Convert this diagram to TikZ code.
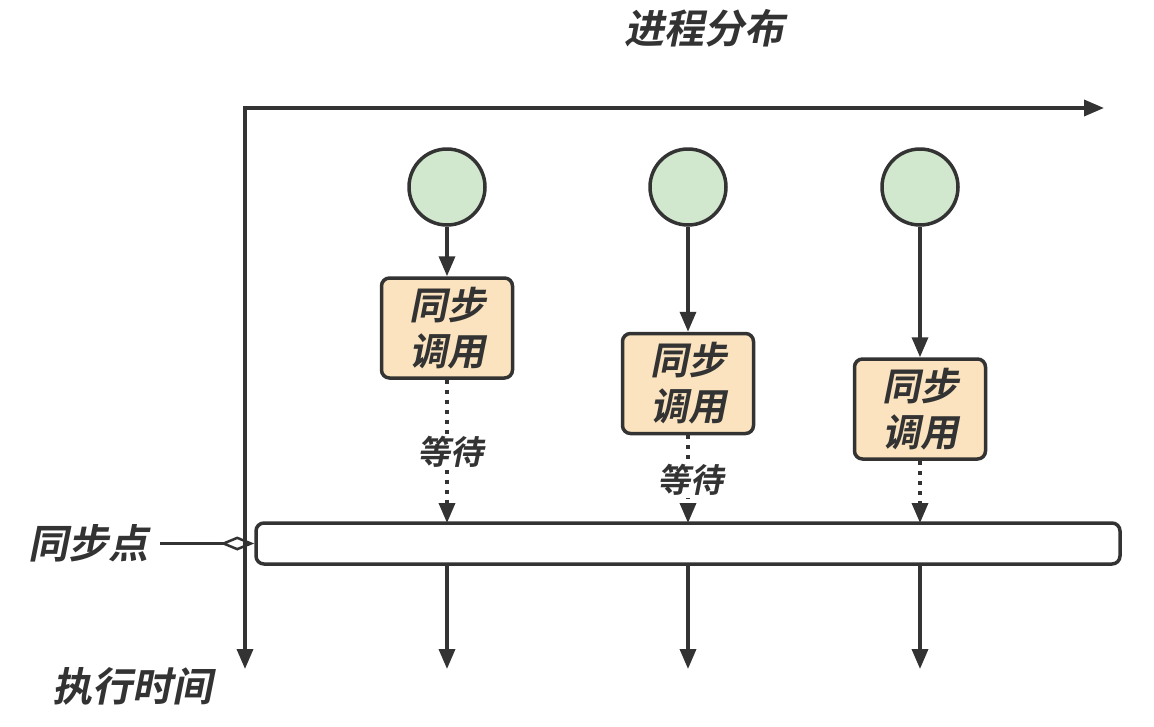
\documentclass[tikz,border=0pt]{standalone}
\usepackage{fontspec}
\setmainfont{Noto Sans CJK SC}[FakeSlant=0.2,BoldFont={Noto Sans CJK SC Bold},BoldFeatures={FakeSlant=0.2}]
\usetikzlibrary{arrows.meta}
\definecolor{ink}{HTML}{333333}
\definecolor{procfill}{HTML}{D1E8CF}
\definecolor{callfill}{HTML}{FAE3BE}
\tikzset{
  line/.style={draw=ink, line width=3.5pt},
  arr/.style={line, -{Triangle[length=20pt,width=16pt]}},
  darr/.style={draw=ink, line width=3.5pt, dash pattern=on 4pt off 6pt, -{Triangle[length=20pt,width=16pt]}},
  proc/.style={circle, draw=ink, line width=3.5pt, fill=procfill, minimum size=76pt, inner sep=0pt},
  call/.style={rounded corners=8pt, draw=ink, line width=3.5pt, fill=callfill, minimum width=131pt, minimum height=100pt, align=center, font=\fontsize{38}{46}\selectfont\bfseries, text=ink, inner sep=0pt},
  lbl/.style={text=ink, font=\fontsize{40}{46}\selectfont\bfseries, inner sep=0pt},
  wait/.style={text=ink, font=\fontsize{33}{38}\selectfont\bfseries, fill=white, inner sep=2pt},
}
\begin{document}
\begin{tikzpicture}[x=1pt,y=-1pt]
\useasboundingbox (0,0) rectangle (1154,726);
% axes
\coordinate (xend) at (1104,108);
\coordinate (yend) at (245,669);
\draw[arr] (245,106.3) -- (yend);
\draw[arr] (243.3,108) -- (xend);
\node[lbl] (title) at (704,28) {进程分布};
\node[lbl] (time) at (132,686) {执行时间};
% sync bar
\node[rounded corners=8pt, draw=ink, line width=3.5pt, fill=white, minimum width=864pt, minimum height=41pt, inner sep=0pt] (bar) at (688,543.5) {};
\node[lbl] (sp) at (88,543.5) {同步点};
\draw[line, -{Diamond[open,length=34pt,width=14pt,line width=2.5pt]}] (sp.east |- bar.west) ++(12,0) coordinate (spl) -- (bar.west);
% processes
\foreach \i/\x/\y in {1/447/328, 2/688/383.5, 3/920/409} {
  \node[proc] (p\i) at (\x,187) {};
  \node[call] (c\i) at (\x,\y) {同步\\调用};
  \draw[arr] (p\i) -- (c\i);
  \coordinate (b\i) at (\x,523);
  \coordinate (e\i) at (\x,669);
  \draw[arr] (\x,564) -- (e\i);
}
\draw[darr] (c1) -- (b1);
\draw[darr] (c2) -- (b2);
\draw[darr] (c3) -- (b3);
\node[wait] (w1) at (450,452) {等待};
\node[wait] (w2) at (690,480) {等待};
\end{tikzpicture}
\end{document}
